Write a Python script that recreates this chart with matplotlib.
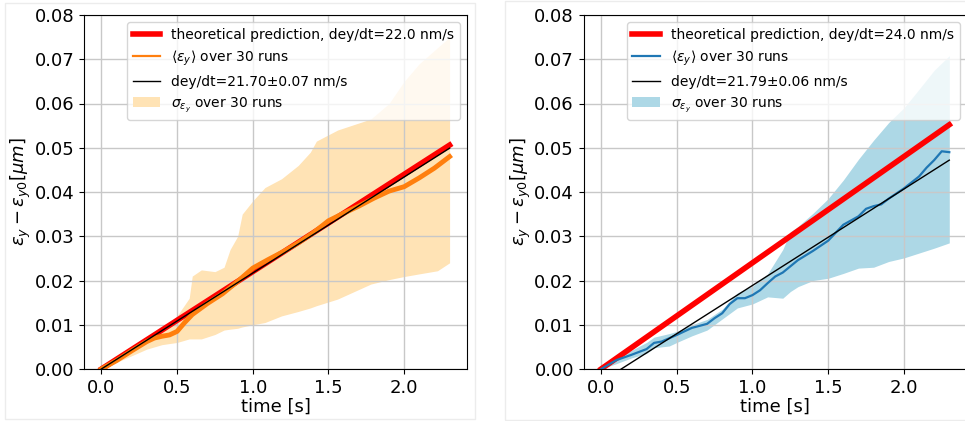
import matplotlib
matplotlib.use('Agg')
import numpy as np
from matplotlib import pyplot as plt
from matplotlib.patches import Rectangle

########################## values ##########################
# straight lines: theoretical prediction and linear fit (endpoints at t=0 and t=2.3)
t_line = [0.0, 2.3]
theory_left = [0.0, 0.0506]
fit_left = [0.0, 0.0499]
theory_right = [0.0, 0.0552]
fit_right = [-0.0029, 0.0472]

# left panel: mean over 30 runs
t_mean_left = [0, 0.1, 0.2, 0.3, 0.35, 0.4, 0.45, 0.5, 0.55, 0.6, 0.7, 0.8, 0.9, 1.0,
               1.1, 1.2, 1.3, 1.4, 1.5, 1.6, 1.7, 1.8, 1.9, 2.0, 2.1, 2.2, 2.3]
mean_left = [0, 0.0019, 0.0041, 0.0062, 0.0070, 0.0074, 0.0077, 0.0085, 0.0105, 0.0123,
             0.0148, 0.0170, 0.0198, 0.0228, 0.0247, 0.0265, 0.0285, 0.0308, 0.0335,
             0.0352, 0.0368, 0.0386, 0.0402, 0.0412, 0.0432, 0.0454, 0.0480]

# left panel: sigma band
t_band_left = [0, 0.1, 0.2, 0.3, 0.4, 0.5, 0.55, 0.58, 0.6, 0.66, 0.75, 0.81, 0.85, 0.9,
               0.93, 1.0, 1.08, 1.19, 1.3, 1.38, 1.42, 1.56, 1.78, 1.9, 2.0, 2.1, 2.22, 2.3]
upper_left = [0, 0.0025, 0.005, 0.007, 0.009, 0.012, 0.0145, 0.016, 0.021, 0.0224, 0.022,
              0.023, 0.027, 0.030, 0.035, 0.038, 0.041, 0.043, 0.046, 0.049, 0.0515,
              0.054, 0.0565, 0.060, 0.065, 0.069, 0.0726, 0.075]
lower_left = [0, 0.0015, 0.003, 0.0045, 0.0055, 0.006, 0.0065, 0.0068, 0.0068, 0.0068,
              0.0078, 0.0088, 0.009, 0.0092, 0.0095, 0.0100, 0.0105, 0.0120, 0.0130,
              0.0138, 0.0143, 0.0158, 0.0192, 0.0202, 0.0209, 0.0215, 0.0222, 0.0240]

# right panel: mean over 30 runs
t_mean_right = [0, 0.1, 0.2, 0.3, 0.35, 0.4, 0.5, 0.6, 0.7, 0.75, 0.8, 0.85, 0.9, 0.95,
                1.0, 1.05, 1.1, 1.15, 1.2, 1.3, 1.4, 1.5, 1.6, 1.7, 1.75, 1.8, 1.85, 1.9,
                2.0, 2.1, 2.15, 2.2, 2.25, 2.3]
mean_right = [0, 0.0020, 0.0032, 0.0045, 0.0059, 0.0062, 0.0077, 0.0093, 0.0102, 0.0115,
              0.0126, 0.0147, 0.0160, 0.0160, 0.0167, 0.0178, 0.0194, 0.0209, 0.0218,
              0.0246, 0.0267, 0.0290, 0.0326, 0.0345, 0.0362, 0.0368, 0.0372, 0.0385,
              0.0408, 0.0435, 0.0455, 0.0472, 0.0492, 0.0490]

# right panel: sigma band
t_band_right = [0, 0.1, 0.2, 0.3, 0.35, 0.45, 0.5, 0.6, 0.7, 0.8, 0.9, 1.0, 1.1, 1.2,
                1.25, 1.3, 1.4, 1.5, 1.6, 1.7, 1.8, 1.9, 2.0, 2.1, 2.2, 2.3]
upper_right = [0, 0.0025, 0.0042, 0.006, 0.0072, 0.0080, 0.0085, 0.0100, 0.0112, 0.0135,
               0.0172, 0.0187, 0.0215, 0.0270, 0.0310, 0.0322, 0.0352, 0.0385, 0.0427,
               0.0474, 0.0517, 0.0557, 0.0590, 0.0632, 0.0675, 0.0708]
lower_right = [0, 0.0012, 0.0025, 0.0035, 0.0048, 0.0052, 0.0060, 0.0075, 0.0088, 0.0113,
               0.0138, 0.0147, 0.0163, 0.0160, 0.0175, 0.0186, 0.0200, 0.0205, 0.0216,
               0.0228, 0.0230, 0.0243, 0.0251, 0.0262, 0.0273, 0.0285]

theory_labels = ['theoretical prediction, dey/dt=22.0 nm/s',
                 'theoretical prediction, dey/dt=24.0 nm/s']
fit_labels = ['dey/dt=21.70\u00b10.07 nm/s', 'dey/dt=21.79\u00b10.06 nm/s']
##################################################################################

fig = plt.figure(figsize=(9.65, 4.21), dpi=100)

# faint frames of the two original figures
fig.patches.append(Rectangle((5 / 965, 1 - 419 / 421), 470 / 965, 416 / 421,
                             transform=fig.transFigure, fill=False,
                             edgecolor='#ececec', lw=1))
fig.patches.append(Rectangle((505 / 965, 1 - 420 / 421), 470 / 965, 419 / 421,
                             transform=fig.transFigure, fill=False,
                             edgecolor='#ececec', lw=1))

ax_l = fig.add_axes([84 / 965, 1 - 369 / 421, 383 / 965, 354 / 421])
ax_r = fig.add_axes([583.7 / 965, 1 - 369 / 421, 383 / 965, 354 / 421])

panels = [
    (ax_l, theory_left, fit_left, t_mean_left, mean_left, t_band_left, upper_left,
     lower_left, '#ff7f0e', '#ffe3b5', 3.5),
    (ax_r, theory_right, fit_right, t_mean_right, mean_right, t_band_right, upper_right,
     lower_right, '#1f77b4', '#add8e6', 1.6),
]

for i, (ax, th, fit, tm, m, tb, up, lo, c_mean, c_band, lw_mean) in enumerate(panels):
    ax.fill_between(tb, lo, up, color=c_band, lw=0, label=r'$\sigma_{\epsilon_y}$ over 30 runs')
    ax.plot(t_line, th, color='red', lw=4, label=theory_labels[i])
    ax.plot(tm, m, color=c_mean, lw=lw_mean, label=r'$\langle\epsilon_y\rangle$ over 30 runs')
    ax.plot(t_line, fit, color='black', lw=1, label=fit_labels[i])

    ax.set_xlim(-0.115, 2.415)
    ax.set_ylim(0, 0.08)
    ax.set_xticks([0.0, 0.5, 1.0, 1.5, 2.0])
    ax.set_yticks(np.arange(0, 0.081, 0.01))
    ax.set_axisbelow('line')
    ax.grid(True, color='#c8c8c8', lw=1)
    ax.tick_params(labelsize=13)
    ax.set_xlabel('time [s]', fontsize=13, labelpad=1)
    ax.set_ylabel(r'$\epsilon_y - \epsilon_{y0} [\mu m]$', fontsize=13, labelpad=1)

    handles, labels = ax.get_legend_handles_labels()
    order = [1, 2, 3, 0]
    leg = ax.legend([handles[k] for k in order], [labels[k] for k in order],
                    loc='upper right', fontsize=10)
    leg.get_lines()[1].set_linewidth(1.6)

fig.savefig('out.png', dpi=100)
